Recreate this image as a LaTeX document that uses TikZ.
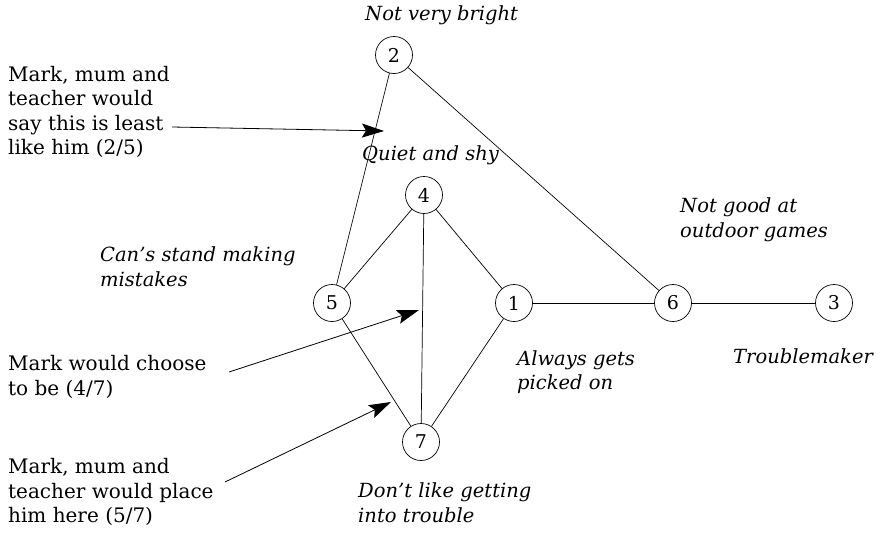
\documentclass[tikz,border=0pt]{standalone}
\usepackage{fontspec}
\setmainfont{DejaVu Serif}
\usetikzlibrary{arrows.meta}
\begin{document}
\begin{tikzpicture}[x=1pt,y=-1pt,
  elem/.style={draw,circle,line width=0.7pt,minimum size=37pt,inner sep=0pt,
    font=\fontsize{19}{22}\selectfont},
  construct/.style={anchor=west,align=left,inner sep=0pt,
    font=\fontsize{19.5}{24.6}\selectfont\itshape},
  note/.style={anchor=west,align=left,inner sep=0pt,
    font=\fontsize{20}{24.6}\selectfont},
  link/.style={line width=0.7pt},
  pointer/.style={line width=0.8pt,-{Stealth[length=22pt,width=14pt,inset=4pt]}}]
\useasboundingbox (0,0) rectangle (891,533);
% elements
\node[elem] (e2) at (394,55) {2};
\node[elem] (e4) at (424,195) {4};
\node[elem] (e5) at (332,303) {5};
\node[elem] (e1) at (514,303) {1};
\node[elem] (e6) at (673,303) {6};
\node[elem] (e3) at (834,303) {3};
\node[elem] (e7) at (421,442) {7};
% links between elements
\draw[link] (e2) -- (e5) (e2) -- (e6);
\draw[link] (e4) -- (e5) (e4) -- (e1) (e4) -- (e7);
\draw[link] (e5) -- (e7) (e1) -- (e7);
\draw[link] (e1) -- (e6) (e6) -- (e3);
% construct labels
\node[construct] (l2) at (365,15) {Not very bright};
\node[construct] (l4) at (362,155) {Quiet and shy};
\node[construct] (l5) at (100,267) {Can's stand making\\mistakes};
\node[construct] (l6) at (680,220) {Not good at\\outdoor games};
\node[construct] (l1) at (517,372) {Always gets\\picked on};
\node[construct] (l3) at (733,356) {Troublemaker};
\node[construct] (l7) at (358,503) {Don't like getting\\into trouble};
% notes on the left
\node[note] (n25) at (8,112) {Mark, mum and\\teacher would\\say this is least\\like him (2/5)};
\node[note] (n47) at (8,377) {Mark would choose\\to be (4/7)};
\node[note] (n57) at (8,492) {Mark, mum and\\teacher would place\\him here (5/7)};
% pointers
\coordinate (p25a) at (172,127);
\coordinate (p25b) at (384,131);
\coordinate (p47a) at (229,372);
\coordinate (p47b) at (419,310);
\coordinate (p57a) at (225,482);
\coordinate (p57b) at (391,402);
\draw[pointer] (p25a) -- (p25b);
\draw[pointer] (p47a) -- (p47b);
\draw[pointer] (p57a) -- (p57b);
\end{tikzpicture}
\end{document}
